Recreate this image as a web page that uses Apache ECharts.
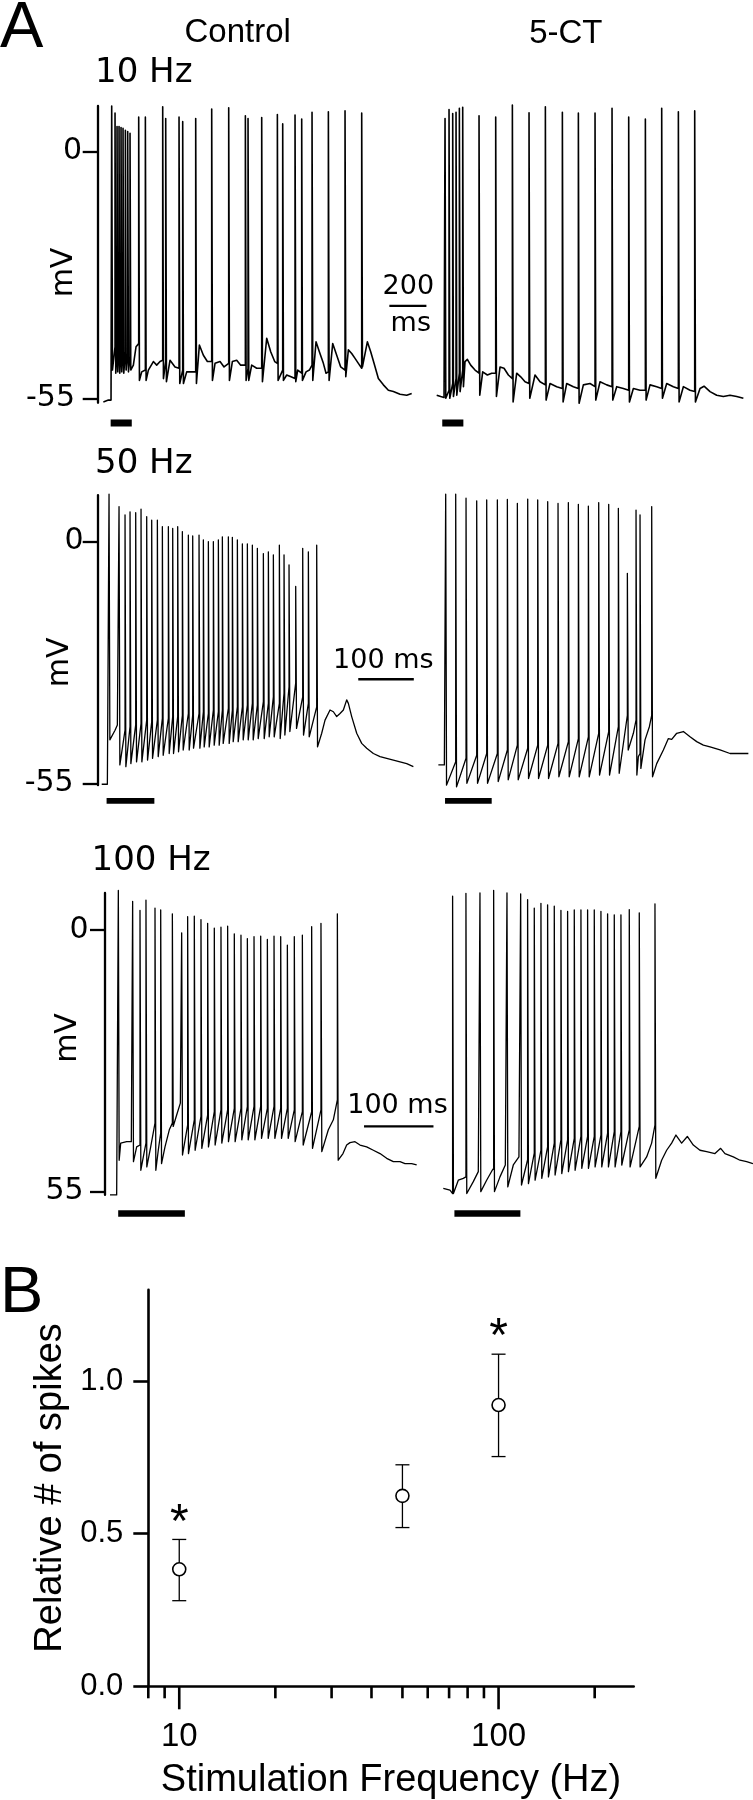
<!DOCTYPE html>
<html><head><meta charset="utf-8">
<script src="https://cdn.jsdelivr.net/npm/echarts@6/dist/echarts.min.js"></script>
<style>html,body{margin:0;padding:0;background:#fff}#c{width:753px;height:1800px}</style>
</head><body><div id="c"></div>
<script>
// ===== DATA (time in ms, membrane potential in mV) =====
// spikes: [time, foot mV, peak mV, trough mV]; sub: subthreshold [time, mV]
const c10Spikes = [[75.6,-55.4,10.2,-48.7],[93.6,-43.5,8.6,-49.4],[104.4,-44.2,5.6,-49.1],[115.2,-43.9,5.6,-49.4],[126,-44.2,5.4,-49.1],[136.8,-44.2,5.2,-49.4],[149.4,-44.6,4.8,-48.7],[162,-45,4.5,-49.1],[174.6,-45.7,4.1,-48.7],[221.4,-42.8,7.7,-51.0],[257.4,-48.7,7.7,-51.0],[351,-46.5,10.0,-50.6],[367.2,-46.8,7.4,-51.3],[439.2,-48.3,7.7,-51.7],[459,-48.7,6.7,-51.7],[529.2,-49.1,7.4,-51.7],[615.6,-46.8,9.5,-51.0],[707.4,-47.2,9.8,-51.0],[797.4,-47.6,8.0,-51.0],[811.8,-48.3,7.4,-51.0],[885.6,-48.3,7.6,-51.3],[970.2,-47.2,8.3,-51.0],[999,-48.7,6.2,-51.0],[1065.6,-50.6,8.2,-51.3],[1101.6,-49.4,7.3,-51.0],[1157.4,-47.6,8.8,-51.0],[1245.6,-49.1,8.9,-51.0],[1335.6,-48.7,9.1,-50.2],[1425.6,-48.3,8.6,-48.0]];
const c10Sub = [[30.6,-55.8],[57.6,-55.4],[72,-55.4],[192.6,-47.6],[207,-43.5],[237.6,-49.1],[273.6,-48.7],[300.6,-46.8],[318.6,-47.6],[336.6,-46.8],[390.6,-46.5],[417.6,-48.0],[480.6,-49.1],[507.6,-49.1],[549,-43.1],[570.6,-45.4],[592.2,-46.8],[633.6,-47.2],[660.6,-46.8],[682.2,-48.0],[727.2,-46.8],[750.6,-46.5],[772.2,-47.6],[831.6,-47.6],[858.6,-48.3],[912.6,-41.6],[934.2,-44.6],[955.8,-46.8],[1020.6,-49.8],[1044,-50.2],[1080,-48.7],[1125,-49.1],[1143,-48.7],[1179,-42.4],[1197,-44.6],[1218.6,-47.2],[1233,-49.4],[1269,-42.8],[1290.6,-45.4],[1312.2,-48.0],[1353.6,-44.2],[1371.6,-45.0],[1389.6,-46.1],[1407.6,-47.2],[1456.2,-42.4],[1474.2,-44.6],[1492.2,-47.2],[1515.6,-50.6],[1542.6,-52.0],[1569.6,-53.2],[1596.6,-53.5],[1632.6,-54.1],[1668.6,-54.3],[1695.6,-53.9]];

const t10Spikes = [[45,-54.6,7.4,-55.0],[66.6,-53.2,9.4,-55.0],[86.4,-51.7,8.5,-54.6],[104.4,-50.6,8.8,-54.3],[122.4,-49.4,9.7,-53.5],[140.4,-48.7,9.9,-52.4],[228.6,-49.4,8.0,-54.3],[318.6,-49.4,7.7,-54.6],[408.6,-50.6,10.4,-55.8],[498.6,-51.7,8.7,-55.0],[586.8,-52.0,10.0,-55.4],[678.6,-52.8,8.8,-55.8],[765,-52.8,8.6,-56.1],[855,-52.4,8.6,-55.4],[946.8,-52.4,9.7,-55.4],[1036.8,-53.2,7.7,-55.8],[1126.8,-53.2,7.3,-55.4],[1215,-52.8,9.7,-55.0],[1305,-52.8,8.9,-55.8],[1393.2,-53.5,9.1,-55.8]];
const t10Sub = [[0,-54.3],[21.6,-54.6],[39.6,-54.8],[153,-46.8],[165.6,-46.3],[183.6,-47.6],[207,-48.7],[248.4,-49.1],[273.6,-49.8],[297,-49.4],[342,-48.0],[363.6,-48.3],[387,-49.8],[432,-49.4],[453.6,-50.2],[477,-51.3],[531,-49.8],[558,-51.3],[612,-51.7],[648,-52.4],[702,-51.7],[738,-52.4],[792,-52.0],[828,-51.7],[882,-51.3],[918,-52.0],[972,-52.4],[1008,-52.8],[1062,-52.8],[1098,-53.2],[1152,-52.0],[1188,-52.4],[1242,-51.7],[1278,-52.4],[1332,-52.4],[1368,-53.2],[1422,-52.8],[1443.6,-52.3],[1476,-53.5],[1512,-54.3],[1548,-54.6],[1584,-54.3],[1620,-54.6],[1656,-55.0]];

const c50Spikes = [[20.4,-55.2,10.8,-45.1],[38.4,-41.7,8.0,-50.8],[49.2,-42.9,6.1,-51.2],[58.2,-42.1,6.8,-50.5],[68.4,-41.7,6.6,-50.1],[78,-41.4,7.4,-50.1],[88.2,-40.6,5.7,-49.7],[97.2,-41.0,4.9,-49.3],[107.4,-40.6,4.9,-48.9],[116.4,-40.2,3.4,-48.6],[127.2,-40.2,3.4,-48.2],[135,-39.8,3.0,-48.2],[144,-39.8,3.4,-47.8],[152.4,-39.5,2.3,-47.4],[163.2,-39.1,1.5,-47.4],[171,-39.5,1.3,-47.0],[182.4,-39.1,1.5,-47.0],[190.2,-38.7,0.4,-46.7],[199.2,-39.1,0,-46.7],[208.2,-38.3,0,-46.3],[217.2,-38.7,0.4,-46.3],[224.4,-38.3,1.1,-45.9],[235.2,-37.9,1.1,-45.9],[242.4,-38.3,1.0,-45.5],[251.4,-37.6,0.4,-45.5],[260.4,-37.6,-0.5,-45.1],[269.4,-37.2,-0.5,-45.1],[278.4,-36.8,-0.8,-45.1],[287.4,-37.2,-1.5,-44.8],[298.2,-36.4,-2.7,-44.8],[307.2,-36.8,-2.3,-44.4],[316.2,-35.3,-3.0,-44.4],[327,-36.8,-0.8,-44.8],[335.4,-34.5,-3.0,-44.0],[344.4,-33.0,-5.3,-43.2],[356.4,-32.2,-10.2,-42.5],[369,-35.3,-1.5,-44.0],[379.2,-36.8,-2.3,-44.4],[394.2,-37.6,-0.8,-46.7]];
const c50Sub = [[7.2,-55.2],[17.4,-55.2],[25.2,-44.8],[31.2,-42.9],[35.4,-41.7],[399,-46.3],[403.2,-43.6],[409.2,-40.6],[418.2,-38.3],[424.2,-38.7],[430.2,-39.8],[436.2,-39.1],[442.2,-38.3],[448.2,-36.0],[451.2,-36.8],[457.2,-39.8],[466.2,-43.6],[475.2,-45.9],[484.2,-47.0],[496.2,-48.2],[508.2,-48.9],[520.2,-49.3],[532.2,-49.7],[544.2,-50.1],[556.2,-50.5],[568.2,-51.2]];

const t50Spikes = [[16.2,-51.2,10.8,-55.4],[34.2,-50.1,10.8,-55.8],[52.8,-49.3,9.9,-55.0],[72,-48.6,9.3,-55.0],[90,-48.2,9.5,-55.0],[109.2,-48.2,9.5,-54.6],[127.2,-47.4,9.6,-54.2],[145.2,-46.3,8.7,-54.2],[163.8,-47.0,9.7,-53.9],[181.8,-46.3,9.5,-53.9],[199.8,-46.3,9.1,-53.9],[218.4,-45.9,8.7,-53.5],[237,-45.5,8.9,-53.5],[255,-44.8,8.5,-53.5],[273,-44.4,8.1,-53.5],[291.6,-43.6,8.9,-53.1],[309.6,-43.2,8.5,-53.1],[327,-42.1,7.6,-52.7],[343.2,-39.5,-7.2,-47.4],[358.8,-40.6,7.2,-53.1],[366,-48.2,6.1,-51.6],[387,-39.5,8.0,-53.5]];
const t50Sub = [[3,-50.8],[13.8,-50.8],[348,-47.0],[354,-43.6],[363,-48.9],[375,-45.1],[382.8,-42.1],[396,-50.5],[408,-47.4],[417,-44.8],[423,-45.0],[432,-43.6],[444,-43.2],[456,-44.4],[468,-45.5],[480,-46.3],[492,-46.7],[510,-47.4],[528,-48.2],[546,-48.2],[561,-48.2]];

const c100Spikes = [[19.2,-55.7,8.3,-48.4],[39.8,-44.5,6.0,-48.7],[50.4,-45.2,4.1,-50.5],[59,-44.8,6.3,-49.8],[72,-40.6,4.6,-50.5],[80.2,-42.7,4.2,-49.1],[97,-40.6,3.4,-41.3],[110.4,-36.1,-0.6,-47.3],[119,-41.0,2.8,-47.0],[128.6,-39.9,2.9,-46.3],[138.2,-39.2,2.2,-45.9],[147.8,-38.9,1.4,-45.6],[157.4,-38.2,0.4,-45.2],[167,-37.8,0.6,-44.8],[176.6,-37.8,0.8,-44.5],[186.2,-37.5,-0.8,-44.5],[195.8,-37.5,-1.1,-44.1],[205,-37.1,-1.8,-44.1],[214.6,-37.1,-1.4,-44.1],[224.2,-37.1,-1.3,-43.8],[233.8,-37.5,-2.0,-43.8],[243.4,-37.1,-1.3,-43.8],[253,-37.5,-1.4,-43.8],[262.6,-37.5,-3.2,-43.8],[272.6,-37.8,-1.4,-44.5],[284.2,-38.2,-1.1,-45.2],[297.6,-38.2,0.7,-45.9],[311,-37.8,1.4,-46.6],[334.6,-35.7,3.4,-48.4]];
const c100Sub = [[7.2,-55.7],[16.8,-55.7],[22.6,-44.8],[31.2,-44.5],[37.9,-44.5],[45.6,-45.6],[56.2,-46.9],[65.8,-45.6],[76.8,-46.2],[86.4,-45.6],[92.6,-42.0],[103.2,-38.9],[108.5,-36.4],[321.6,-42.0],[328.8,-39.9],[342.7,-47.0],[348,-45.2],[352.8,-44.7],[360,-44.5],[367.2,-45.2],[376.8,-45.6],[386.4,-46.3],[396,-47.0],[405.6,-48.0],[415.2,-48.7],[424.8,-48.7],[432,-49.1],[441.6,-49.1],[448.8,-49.4]];

const t100Spikes = [[13.4,-55.4,7.1,-55.4],[32.6,-51.9,7.7,-55.4],[52.8,-50.6,7.8,-55.0],[72.5,-50.1,8.3,-55.0],[91.7,-49.1,7.8,-54.0],[111.4,-47.3,7.6,-53.6],[121.4,-48.3,6.4,-53.3],[131,-46.9,4.6,-52.6],[140.6,-46.3,5.6,-52.2],[150.2,-45.6,5.3,-51.9],[159.8,-44.8,5.0,-51.5],[169.4,-44.1,4.1,-51.2],[179,-44.1,3.9,-50.8],[188.6,-43.8,4.2,-50.5],[198.2,-43.4,4.2,-50.1],[207.8,-43.4,4.2,-50.1],[217.4,-43.4,4.2,-49.8],[227,-43.1,3.9,-49.8],[236.6,-42.7,3.4,-49.8],[246.2,-42.4,3.2,-49.8],[255.8,-42.4,3.2,-49.4],[267.8,-42.0,4.3,-49.8],[282.2,-41.3,3.6,-49.8],[304.8,-41.0,5.5,-52.2]];
const t100Sub = [[0,-54.3],[9.6,-54.7],[21.6,-52.6],[28.8,-52.2],[43.2,-52.9],[50.4,-50.8],[62.4,-52.6],[70.1,-50.6],[81.6,-51.9],[89.3,-49.4],[100.8,-49.4],[108.9,-47.7],[292.8,-47.7],[300,-44.8],[314.4,-48.4],[321.6,-46.3],[328.8,-44.8],[335,-43.1],[343.2,-44.8],[351.4,-43.4],[360,-45.2],[369.6,-46.3],[379.2,-46.6],[391.2,-47.0],[399.4,-45.9],[405.6,-47.0],[417.6,-47.7],[427.2,-48.4],[436.8,-48.7],[445.9,-49.1]];

// stimulus periods [start ms, end ms]
const stim10C = [70, 184], stim10T = [30, 144];
const stim50C = [16, 102], stim50T = [15, 99];
const stim100C = [19, 115], stim100T = [16, 111];
const scaleBarMs = [200, 100, 100];
const mvTicks = [-55, 0];
const mvTickLabels = [['-55', '0'], ['-55', '0'], ['55', '0']];

// Panel B
const freqs = [10, 50, 100];
const relSpikes = [0.383, 0.624, 0.922];
const errLow = [0.280, 0.520, 0.753];
const errHigh = [0.481, 0.726, 1.089];
const signif = [1, 0, 1];
const yTicksB = [0, 0.5, 1.0];
const freqMinorTicks = [8, 9, 20, 30, 40, 50, 60, 70, 80, 90, 200];
const freqMajorTicks = [10, 100];

// ===== LAYOUT =====
const SANS = '"Liberation Sans", Arial, Helvetica, sans-serif';
const DEJ = '"DejaVu Sans", Verdana, sans-serif';
const ROWS = [
  {y0:151.7, kV:4.484, vmin:-56, vmax:10.2, kT:1/5.4, xL:97.7, xR:436.7, maxL:1800, maxR:1700, w:4, lw:1.6, stimY:-60.5, stimW:7, lblM:15.7, lblPad:7, bar:[1575,-34.4]},
  {y0:541.7, kV:4.394, vmin:-55.4, vmax:10.6, kT:1/1.8, xL:97.7, xR:436.7, maxL:600, maxR:580, w:1.5, lw:1.3, stimY:-59.0, stimW:5.8, lblM:14, lblPad:10, bar:[469,-31.3]},
  {y0:930, kV:4.757, vmin:-55.7, vmax:7.8, kT:1/1.44, xL:105, xR:443.3, maxL:480, maxR:460, w:1.2, lw:1.3, stimY:-59.6, stimW:6.7, lblM:16.3, lblPad:5, bar:[373,-41.3]}
];

function buildTrace(spikes, sub, w) {
  const pts = sub.map(p => [p[0], p[1]]);
  spikes.forEach(s => { pts.push([s[0], s[1]], [s[0], s[2]], [s[0] + w, s[3]]); });
  pts.sort((a, b) => a[0] - b[0]);
  return pts;
}

const grids = [], xAxes = [], yAxes = [], series = [];
ROWS.forEach((r, ri) => {
  const top = r.y0 - r.vmax * r.kV, height = (r.vmax - r.vmin) * r.kV;
  [['L', r.xL, r.maxL], ['R', r.xR, r.maxR]].forEach(([side, left, xmax]) => {
    const gi = grids.length;
    grids.push({left: left, top: top, width: xmax * r.kT, height: height, containLabel: false, outerBoundsMode: 'none'});
    xAxes.push({gridIndex: gi, type: 'value', min: 0, max: xmax, show: false});
    if (side === 'L') {
      const labs = mvTickLabels[ri];
      yAxes.push({gridIndex: gi, type: 'value', min: r.vmin, max: r.vmax, position: 'left',
        axisLine: {show: true, onZero: false, lineStyle: {color: '#000', width: 2.3}},
        axisTick: {show: true, inside: false, length: 15, customValues: mvTicks, lineStyle: {color: '#000', width: 2.3}},
        axisLabel: {show: true, customValues: mvTicks, margin: r.lblM, color: '#000', fontSize: 30, fontFamily: DEJ,
          formatter: v => v === 0 ? labs[1] : '{n|' + labs[0] + '}',
          rich: {n: {fontSize: 30, fontFamily: DEJ, color: '#000', padding: [0, r.lblPad, 0, 0]}}},
        splitLine: {show: false}});
    } else {
      yAxes.push({gridIndex: gi, type: 'value', min: r.vmin, max: r.vmax, show: false});
    }
  });
});

const traces = [[c10Spikes, c10Sub], [t10Spikes, t10Sub], [c50Spikes, c50Sub], [t50Spikes, t50Sub], [c100Spikes, c100Sub], [t100Spikes, t100Sub]];
const stims = [stim10C, stim10T, stim50C, stim50T, stim100C, stim100T];
traces.forEach((tr, gi) => {
  const r = ROWS[Math.floor(gi / 2)];
  series.push({type: 'line', xAxisIndex: gi, yAxisIndex: gi, data: buildTrace(tr[0], tr[1], r.w), symbol: 'none', showSymbol: false, clip: false, silent: true,
    lineStyle: {color: '#000', width: r.lw, join: 'round'}, z: 3});
  const st = stims[gi];
  series.push({type: 'line', xAxisIndex: gi, yAxisIndex: gi, data: [[st[0], r.stimY], [st[1], r.stimY]], symbol: 'none', showSymbol: false, clip: false, silent: true,
    lineStyle: {color: '#000', width: r.stimW, cap: 'butt'}});
});
ROWS.forEach((r, ri) => {
  const gi = ri * 2, b = r.bar;
  series.push({type: 'line', xAxisIndex: gi, yAxisIndex: gi, data: [[b[0], b[1]], [b[0] + scaleBarMs[ri], b[1]]], symbol: 'none', showSymbol: false, clip: false, silent: true,
    lineStyle: {color: '#000', width: 2.3, cap: 'butt'}});
});

// Panel B grid
const BG = grids.length;
grids.push({left: 148.3, top: 1289.9, width: 485.4, height: 396.1, containLabel: false, outerBoundsMode: 'none'});
xAxes.push({gridIndex: BG, type: 'log', logBase: 10, min: 8, max: 265,
  axisLine: {show: true, onZero: false, lineStyle: {color: '#000', width: 2.6}},
  axisTick: {show: false}, minorTick: {show: false}, splitLine: {show: false}, minorSplitLine: {show: false},
  axisLabel: {showMinLabel: false, showMaxLabel: false, fontSize: 33, fontFamily: SANS, color: '#000', margin: 34.5},
  name: 'Stimulation Frequency (Hz)', nameLocation: 'middle', nameGap: 76,
  nameTextStyle: {fontSize: 38, fontFamily: SANS, color: '#000'}});
yAxes.push({gridIndex: BG, type: 'value', min: 0, max: 1.3, interval: 0.5,
  axisLine: {show: true, onZero: false, lineStyle: {color: '#000', width: 2.6}},
  axisTick: {show: true, length: 15, customValues: yTicksB, lineStyle: {color: '#000', width: 2.6}},
  axisLabel: {customValues: yTicksB, formatter: v => v.toFixed(1), fontSize: 31, fontFamily: SANS, color: '#000', margin: 25},
  splitLine: {show: false},
  name: 'Relative # of spikes', nameLocation: 'middle', nameGap: 66,
  nameTextStyle: {fontSize: 38, fontFamily: SANS, color: '#000'}});

function tickSeries(vals, len) {
  return {type: 'custom', xAxisIndex: BG, yAxisIndex: BG, clip: false, silent: true, z: 4,
    data: vals.map(f => [f, 0]),
    renderItem: (p, api) => {
      const c = api.coord([api.value(0), 0]);
      return {type: 'line', shape: {x1: c[0], y1: c[1], x2: c[0], y2: c[1] + len}, style: {stroke: '#000', lineWidth: 2.6}};
    }};
}
series.push(tickSeries(freqMinorTicks, 12.3));
series.push(tickSeries(freqMajorTicks, 23.3));

series.push({type: 'custom', xAxisIndex: BG, yAxisIndex: BG, clip: false, silent: true, z: 3,
  data: freqs.map((f, i) => [f, errLow[i], errHigh[i], signif[i]]),
  encode: {x: 0, y: [1, 2]},
  renderItem: (p, api) => {
    const f = api.value(0), a = api.coord([f, api.value(1)]), b = api.coord([f, api.value(2)]);
    const st = {stroke: '#000', lineWidth: 1.3};
    const ch = [
      {type: 'line', shape: {x1: a[0], y1: a[1], x2: b[0], y2: b[1]}, style: st},
      {type: 'line', shape: {x1: a[0] - 7, y1: a[1], x2: a[0] + 7, y2: a[1]}, style: st},
      {type: 'line', shape: {x1: b[0] - 7, y1: b[1], x2: b[0] + 7, y2: b[1]}, style: st}];
    if (api.value(3)) {
      ch.push({type: 'text', x: b[0], y: b[1] - 16, style: {text: '*', font: '48px ' + SANS, fill: '#000',
        align: 'center', verticalAlign: 'middle', textAlign: 'center', textVerticalAlign: 'middle'}});
    }
    return {type: 'group', children: ch};
  }});
series.push({type: 'scatter', xAxisIndex: BG, yAxisIndex: BG, silent: true, z: 5,
  data: freqs.map((f, i) => [f, relSpikes[i]]), symbol: 'circle', symbolSize: 13,
  itemStyle: {color: '#fff', borderColor: '#000', borderWidth: 1.6, opacity: 1}});

// texts
function txt(text, x, y, size, fam, align, rot) {
  return {type: 'text', x: x, y: y, rotation: rot || 0, silent: true,
    style: {text: text, font: size + 'px ' + fam, fill: '#000', align: align, verticalAlign: 'middle', textAlign: align, textVerticalAlign: 'middle'}};
}
const graphic = [
  txt('A', 0, 28.8, 65, SANS, 'left'),
  txt('B', 0, 1294.5, 65, SANS, 'left'),
  txt('Control', 237.7, 32.8, 33, SANS, 'center'),
  txt('5-CT', 565.8, 34.2, 33, SANS, 'center'),
  txt('10 Hz', 95, 73, 34, DEJ, 'left'),
  txt('50 Hz', 95, 464.2, 34, DEJ, 'left'),
  txt('100 Hz', 91.5, 861.2, 34, DEJ, 'left'),
  txt('mV', 64.5, 272.5, 30, DEJ, 'center', Math.PI / 2),
  txt('mV', 60.3, 662.3, 30, DEJ, 'center', Math.PI / 2),
  txt('mV', 68.3, 1038, 30, DEJ, 'center', Math.PI / 2),
  txt('200', 408.3, 286.7, 27, DEJ, 'center'),
  txt('ms', 410.8, 323.6, 27, DEJ, 'center'),
  txt('100 ms', 383.3, 661, 27, DEJ, 'center'),
  txt('100 ms', 397.5, 1106, 27, DEJ, 'center')
];

const chart = echarts.init(document.getElementById('c'), null, {renderer: 'canvas', width: 753, height: 1800});
chart.setOption({
  animation: false,
  backgroundColor: '#fff',
  grid: grids, xAxis: xAxes, yAxis: yAxes, series: series,
  graphic: graphic
});
</script>
</body></html>
